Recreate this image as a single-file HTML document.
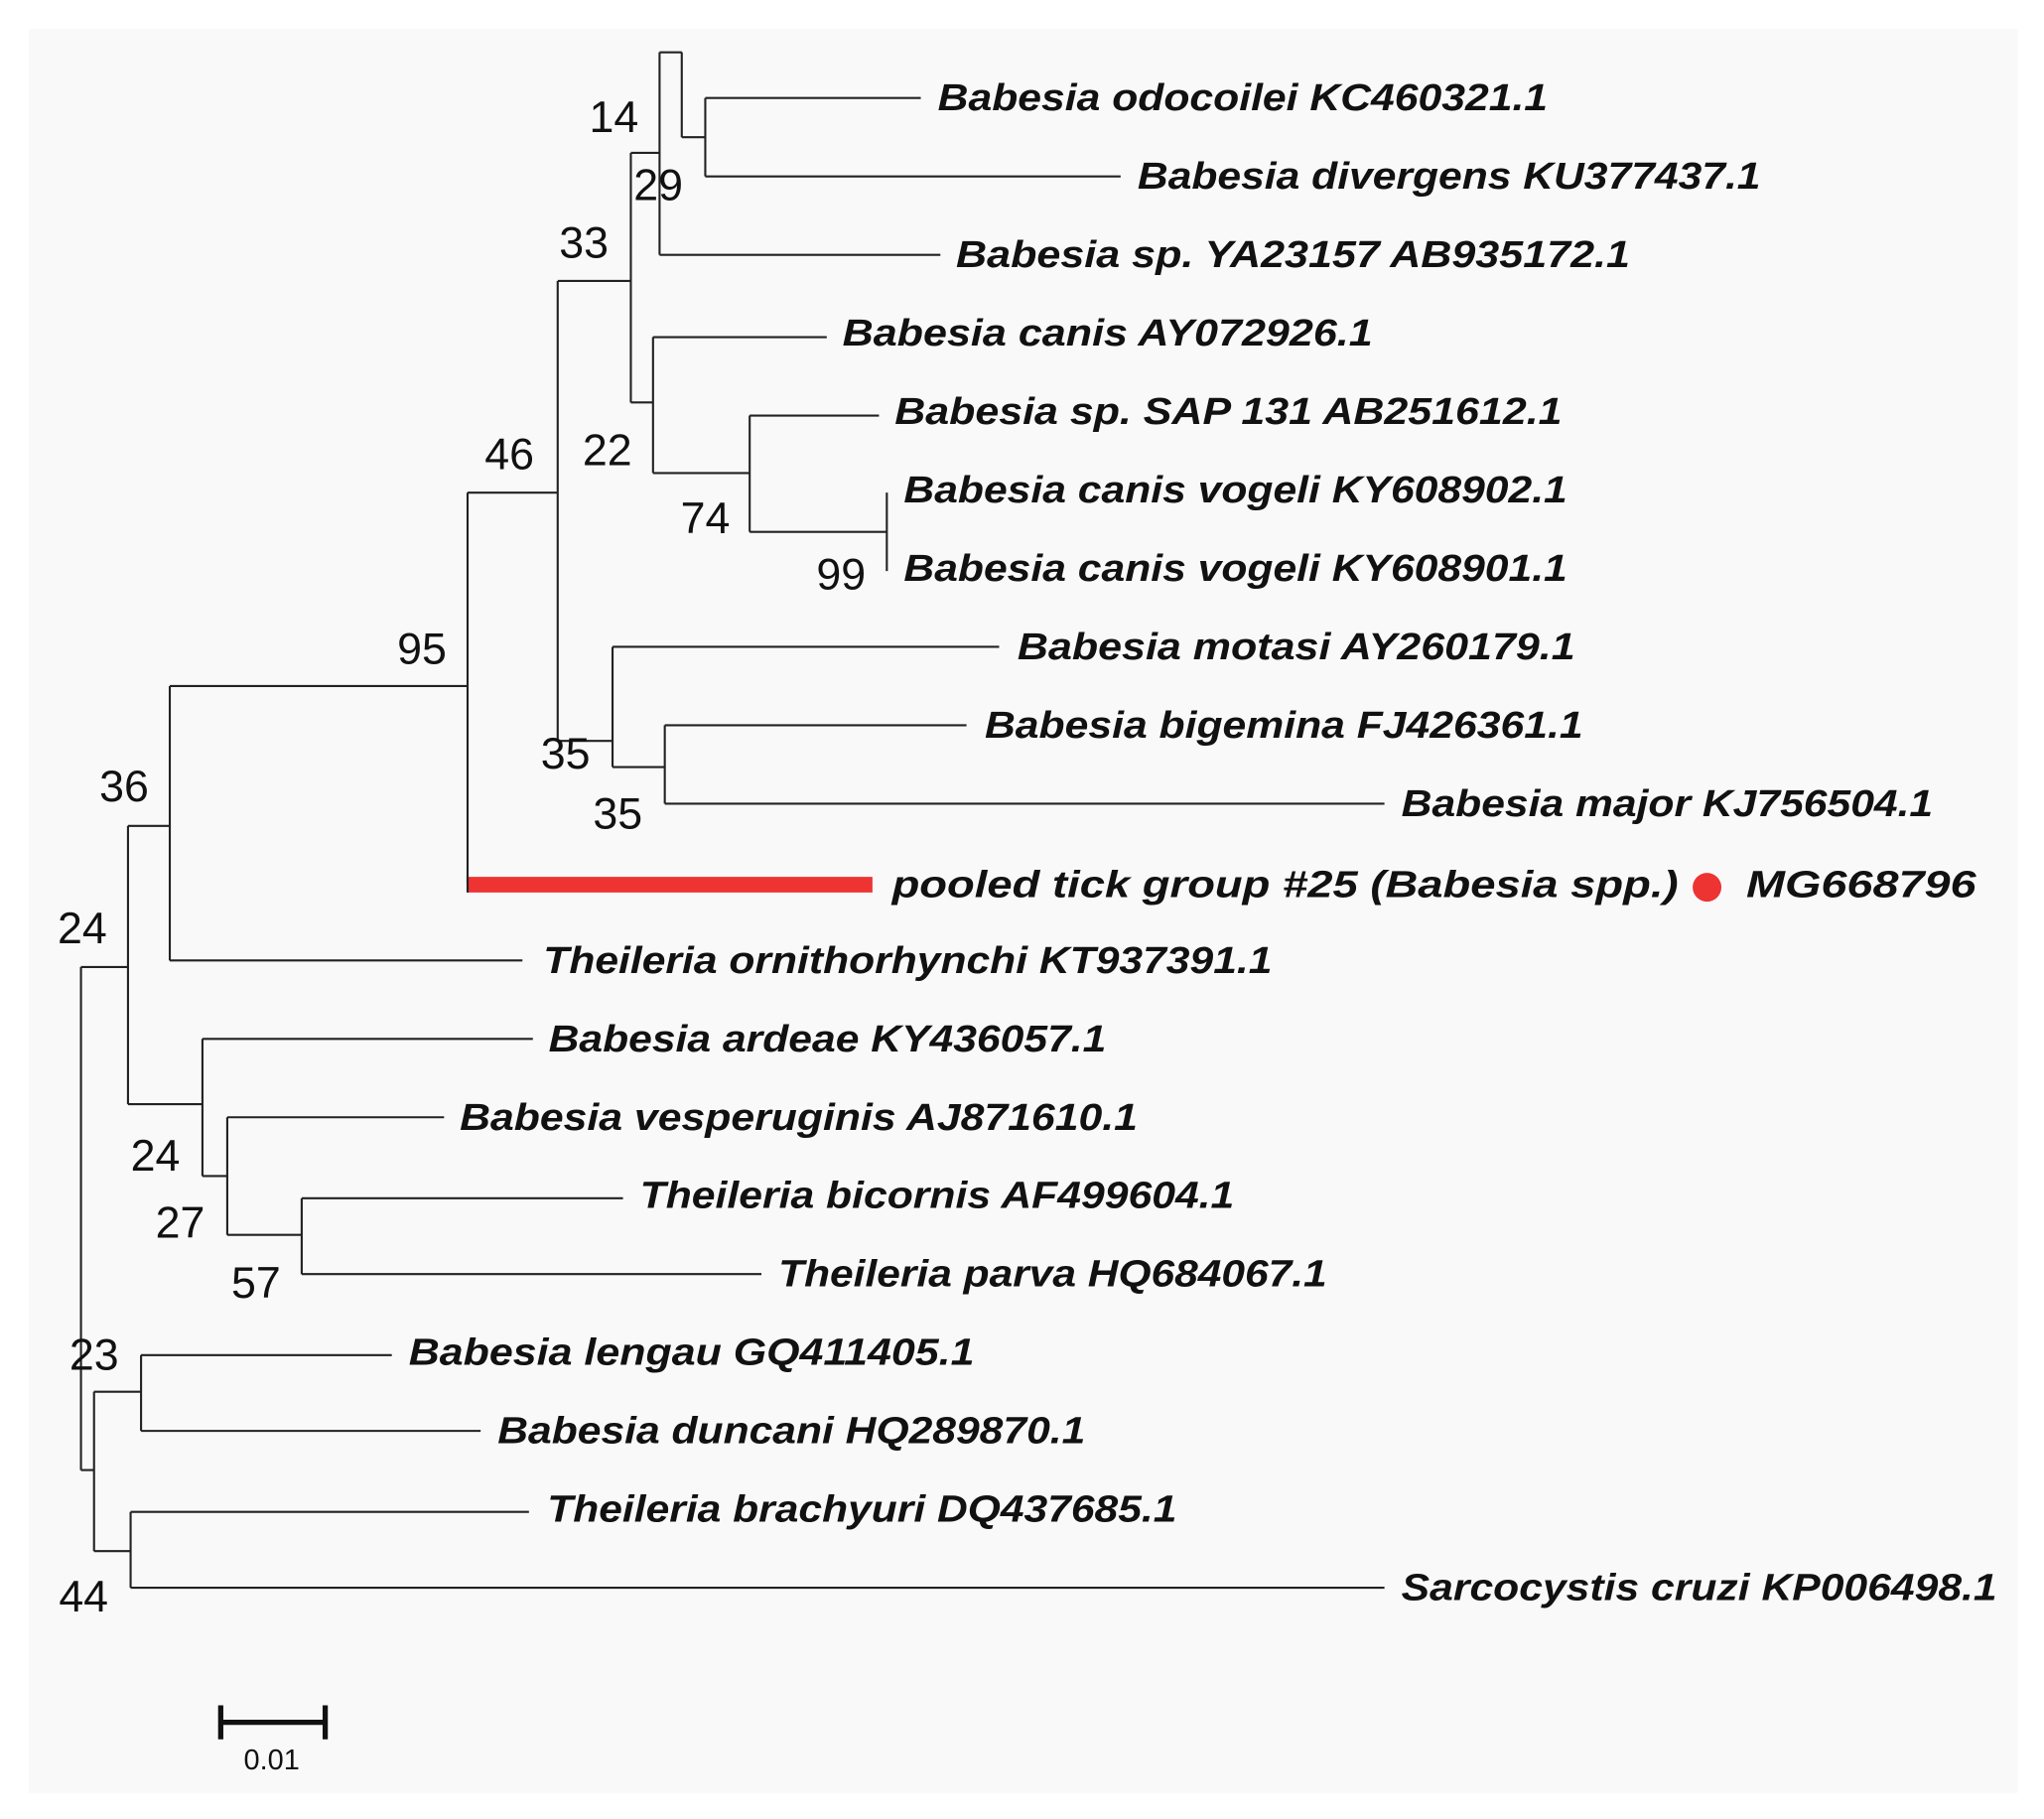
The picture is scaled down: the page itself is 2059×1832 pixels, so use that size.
<!DOCTYPE html>
<html><head><style>html,body{margin:0;padding:0;background:#fff}svg{display:block}</style></head><body>
<svg width="2059" height="1832" viewBox="0 0 1565 1392" preserveAspectRatio="none" xmlns="http://www.w3.org/2000/svg">
<rect x="0" y="0" width="1565" height="1392" fill="#fff"/>
<rect x="22" y="22" width="1523" height="1350" fill="#f9f9f9"/>
<g stroke="#222" stroke-width="1.6" fill="none">
<path d="M62,740V1125 M62,740H98 M62,1125H72"/>
<path d="M98,632V845 M98,632H130 M98,845H155"/>
<path d="M130,525V735 M130,735H400 M130,525H358"/>
<path d="M358,377V677 M358,377H427"/>
<path d="M427,215V567 M427,567H469 M427,215H483"/>
<path d="M469,495V587 M469,495H765 M469,587H509"/>
<path d="M509,555V615 M509,555H740 M509,615H1060"/>
<path d="M483,117V308 M483,117H505 M505,40V195 M505,195H720 M505,40H522 M522,40V105 M522,105H540 M540,75V135 M540,75H705 M540,135H858"/>
<path d="M483,308H500 M500,258V362 M500,258H633 M500,362H574 M574,318V407 M574,318H673 M574,407H679 M679,377V437"/>
<path d="M155,795V900 M155,795H408 M155,900H174 M174,855V945 M174,855H340 M174,945H231 M231,917V975 M231,917H477 M231,975H583"/>
<path d="M72,1065V1187 M72,1065H108 M72,1187H100 M108,1037V1095 M108,1037H300 M108,1095H368 M100,1157V1215 M100,1157H405 M100,1215H1060"/>
</g>
<path d="M358,677H668" stroke="#ee3333" stroke-width="12"/>
<path d="M358,671V683" stroke="#222" stroke-width="1.6"/>
<g font-family="Liberation Sans, sans-serif" font-weight="bold" font-style="italic" font-size="29" fill="#111" dominant-baseline="central">
<text x="718" y="75" textLength="467" lengthAdjust="spacingAndGlyphs">Babesia odocoilei KC460321.1</text>
<text x="871" y="135" textLength="477" lengthAdjust="spacingAndGlyphs">Babesia divergens KU377437.1</text>
<text x="732" y="195" textLength="516" lengthAdjust="spacingAndGlyphs">Babesia sp. YA23157 AB935172.1</text>
<text x="645" y="255" textLength="406" lengthAdjust="spacingAndGlyphs">Babesia canis AY072926.1</text>
<text x="685" y="315" textLength="511" lengthAdjust="spacingAndGlyphs">Babesia sp. SAP 131 AB251612.1</text>
<text x="692" y="375" textLength="508" lengthAdjust="spacingAndGlyphs">Babesia canis vogeli KY608902.1</text>
<text x="692" y="435" textLength="508" lengthAdjust="spacingAndGlyphs">Babesia canis vogeli KY608901.1</text>
<text x="779" y="495" textLength="427" lengthAdjust="spacingAndGlyphs">Babesia motasi AY260179.1</text>
<text x="754" y="555" textLength="458" lengthAdjust="spacingAndGlyphs">Babesia bigemina FJ426361.1</text>
<text x="1073" y="615" textLength="407" lengthAdjust="spacingAndGlyphs">Babesia major KJ756504.1</text>
<text x="683" y="677" textLength="602" lengthAdjust="spacingAndGlyphs">pooled tick group #25 (Babesia spp.)</text>
<text x="1337" y="677" textLength="176" lengthAdjust="spacingAndGlyphs">MG668796</text>
<text x="416" y="735" textLength="558" lengthAdjust="spacingAndGlyphs">Theileria ornithorhynchi KT937391.1</text>
<text x="420" y="795" textLength="427" lengthAdjust="spacingAndGlyphs">Babesia ardeae KY436057.1</text>
<text x="352" y="855" textLength="519" lengthAdjust="spacingAndGlyphs">Babesia vesperuginis AJ871610.1</text>
<text x="490" y="915" textLength="455" lengthAdjust="spacingAndGlyphs">Theileria bicornis AF499604.1</text>
<text x="596" y="975" textLength="420" lengthAdjust="spacingAndGlyphs">Theileria parva HQ684067.1</text>
<text x="313" y="1035" textLength="433" lengthAdjust="spacingAndGlyphs">Babesia lengau GQ411405.1</text>
<text x="381" y="1095" textLength="450" lengthAdjust="spacingAndGlyphs">Babesia duncani HQ289870.1</text>
<text x="419" y="1155" textLength="482" lengthAdjust="spacingAndGlyphs">Theileria brachyuri DQ437685.1</text>
<text x="1073" y="1215" textLength="456" lengthAdjust="spacingAndGlyphs">Sarcocystis cruzi KP006498.1</text>
</g>
<circle cx="1307" cy="679" r="11" fill="#ee3333"/>
<g font-family="Liberation Sans, sans-serif" font-size="34" fill="#111" text-anchor="middle" dominant-baseline="central">
<text x="470" y="90">14</text><text x="504" y="142">29</text><text x="447" y="186">33</text>
<text x="390" y="348">46</text><text x="465" y="345">22</text><text x="540" y="397">74</text>
<text x="644" y="440">99</text><text x="323" y="497">95</text><text x="433" y="577">35</text>
<text x="473" y="623">35</text><text x="95" y="602">36</text><text x="63" y="711">24</text>
<text x="119" y="885">24</text><text x="138" y="936">27</text><text x="196" y="982">57</text>
<text x="72" y="1037">23</text><text x="64" y="1222">44</text>
</g>
<path d="M168,1318H250 M169,1305V1331 M249,1305V1331" stroke="#111" stroke-width="4"/>
<text x="208" y="1347" font-family="Liberation Sans, sans-serif" font-size="22" fill="#111" text-anchor="middle" dominant-baseline="central">0.01</text>
</svg>
</body></html>
